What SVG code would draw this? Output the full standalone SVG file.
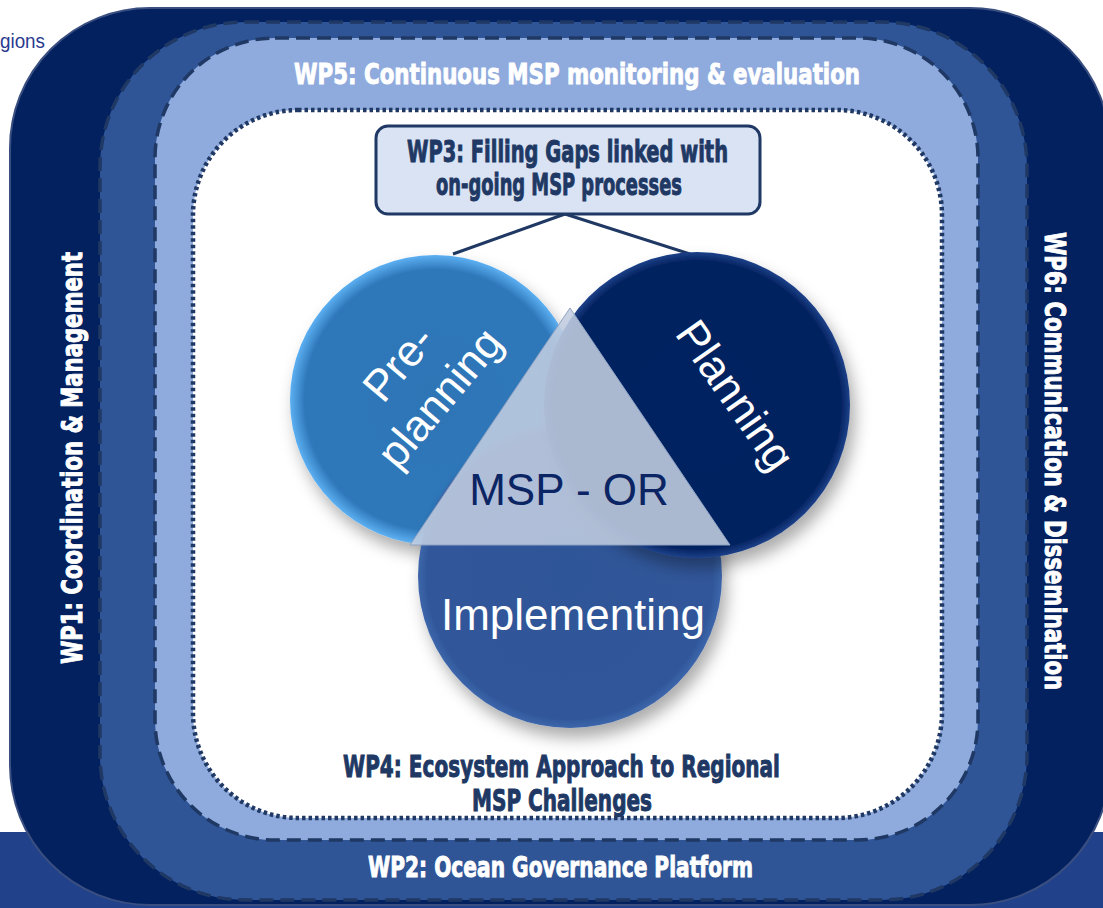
<svg xmlns="http://www.w3.org/2000/svg" width="1103" height="908" viewBox="0 0 1103 908">
  <defs>
    <style>
      .wpw { font-family: "DejaVu Sans", "Liberation Sans", sans-serif; font-weight: bold; fill: #ffffff; stroke: #ffffff; stroke-width: 1; }
      .wpd { font-family: "DejaVu Sans", "Liberation Sans", sans-serif; font-weight: bold; fill: #203864; stroke: #203864; stroke-width: 1; }
      .cir { font-family: "Liberation Sans", Arial, sans-serif; fill: #ffffff; font-size: 44px; }
      .dash { fill: none; stroke: #1f3864; stroke-width: 3.5; stroke-dasharray: 14 7; }
      .conn { stroke: #1f3864; stroke-width: 3; fill: none; }
    </style>
    <radialGradient id="gPre" cx="0.5" cy="0.5" r="0.5">
      <stop offset="0" stop-color="#2e75b6"/>
      <stop offset="0.9" stop-color="#2f78ba"/>
      <stop offset="1" stop-color="#5cb0f2"/>
    </radialGradient>
    <radialGradient id="gPlan" cx="0.5" cy="0.5" r="0.5">
      <stop offset="0" stop-color="#002060"/>
      <stop offset="0.94" stop-color="#03225f"/>
      <stop offset="1" stop-color="#1d4189"/>
    </radialGradient>
    <radialGradient id="gImp" cx="0.5" cy="0.5" r="0.5">
      <stop offset="0" stop-color="#2f5597"/>
      <stop offset="0.94" stop-color="#30579a"/>
      <stop offset="1" stop-color="#3d66aa"/>
    </radialGradient>
    <filter id="sh" x="-30%" y="-30%" width="170%" height="170%">
      <feDropShadow dx="5" dy="10" stdDeviation="8" flood-color="#000000" flood-opacity="0.33"/>
    </filter>
  </defs>

  <rect x="0" y="0" width="1103" height="908" fill="#ffffff"/>
  <rect x="0" y="832" width="1103" height="76" fill="#21428b"/>
  <text x="0" y="48" font-family="'Liberation Sans', Arial, sans-serif" font-size="20" fill="#2a3a8f" textLength="45" lengthAdjust="spacingAndGlyphs">gions</text>

  <g id="wp1">
    <rect x="10" y="8" width="1100" height="897" rx="140" ry="140" fill="#03215f" stroke="#3a4f80" stroke-width="2"/>
    <text class="wpw" font-size="28.5" transform="translate(82,664) rotate(-90)" textLength="412" lengthAdjust="spacingAndGlyphs">WP1: Coordination &amp; Management</text>
  </g>
  <g id="wp6">
    <text class="wpw" font-size="28.5" transform="translate(1045,232) rotate(90)" textLength="458" lengthAdjust="spacingAndGlyphs">WP6: Communication &amp; Dissemination</text>
  </g>

  <g id="wp2">
    <rect x="100" y="22" width="927" height="878" rx="145" ry="145" fill="#2f5597"/>
    <rect x="100" y="22" width="927" height="878" rx="145" ry="145" class="dash"/>
    <text class="wpw" font-size="28.5" x="368" y="877" textLength="385" lengthAdjust="spacingAndGlyphs">WP2: Ocean Governance Platform</text>
  </g>

  <g id="wp5">
    <rect x="155" y="38" width="823" height="802" rx="120" ry="120" fill="#8faadc"/>
    <rect x="155" y="38" width="823" height="802" rx="120" ry="120" class="dash"/>
    <text class="wpw" font-size="28.5" x="294" y="84" textLength="566" lengthAdjust="spacingAndGlyphs">WP5: Continuous MSP monitoring &amp; evaluation</text>
  </g>

  <g id="wp4">
    <rect x="193" y="110" width="749" height="708" rx="105" ry="105" fill="#ffffff" stroke="#1f3864" stroke-width="4.5" stroke-dasharray="3.5 3"/>
    <text class="wpd" font-size="29.5" x="343" y="777" textLength="437" lengthAdjust="spacingAndGlyphs">WP4: Ecosystem Approach to Regional</text>
    <text class="wpd" font-size="29.5" x="472" y="811" textLength="180" lengthAdjust="spacingAndGlyphs">MSP Challenges</text>
  </g>

  <g id="connectors">
    <line class="conn" x1="565" y1="214" x2="453" y2="254"/>
    <line class="conn" x1="565" y1="214" x2="693" y2="255"/>
  </g>

  <g id="wp3">
    <rect x="376" y="126" width="384" height="88" rx="12" ry="12" fill="#dae3f3" stroke="#1f3864" stroke-width="3"/>
    <text class="wpd" font-size="29.5" x="407" y="162" textLength="321" lengthAdjust="spacingAndGlyphs">WP3: Filling Gaps linked with</text>
    <text class="wpd" font-size="29.5" x="436" y="195" textLength="246" lengthAdjust="spacingAndGlyphs">on-going MSP processes</text>
  </g>

  <g id="preplanning">
    <circle cx="435" cy="400" r="145" fill="url(#gPre)" filter="url(#sh)"/>
    <g transform="translate(416,378) rotate(-50)">
      <text class="cir" x="0" y="-8" text-anchor="middle">Pre-</text>
      <text class="cir" x="0" y="46" text-anchor="middle">planning</text>
    </g>
  </g>

  <g id="implementing">
    <circle cx="570" cy="576" r="152" fill="url(#gImp)" filter="url(#sh)"/>
    <text class="cir" x="573" y="630" text-anchor="middle">Implementing</text>
  </g>

  <g id="planning">
    <circle cx="697" cy="405" r="153" fill="url(#gPlan)" filter="url(#sh)"/>
    <text class="cir" transform="translate(723,404) rotate(55)" x="0" y="0" text-anchor="middle">Planning</text>
  </g>

  <g id="msp-or">
    <polygon points="570,308 410,545 730,545" fill="#c2cde0" fill-opacity="0.88" stroke="#8ea2c4" stroke-width="1"/>
    <text x="569" y="505" text-anchor="middle" font-family="'Liberation Sans', Arial, sans-serif" font-size="44" fill="#0b2463">MSP - OR</text>
  </g>
</svg>
